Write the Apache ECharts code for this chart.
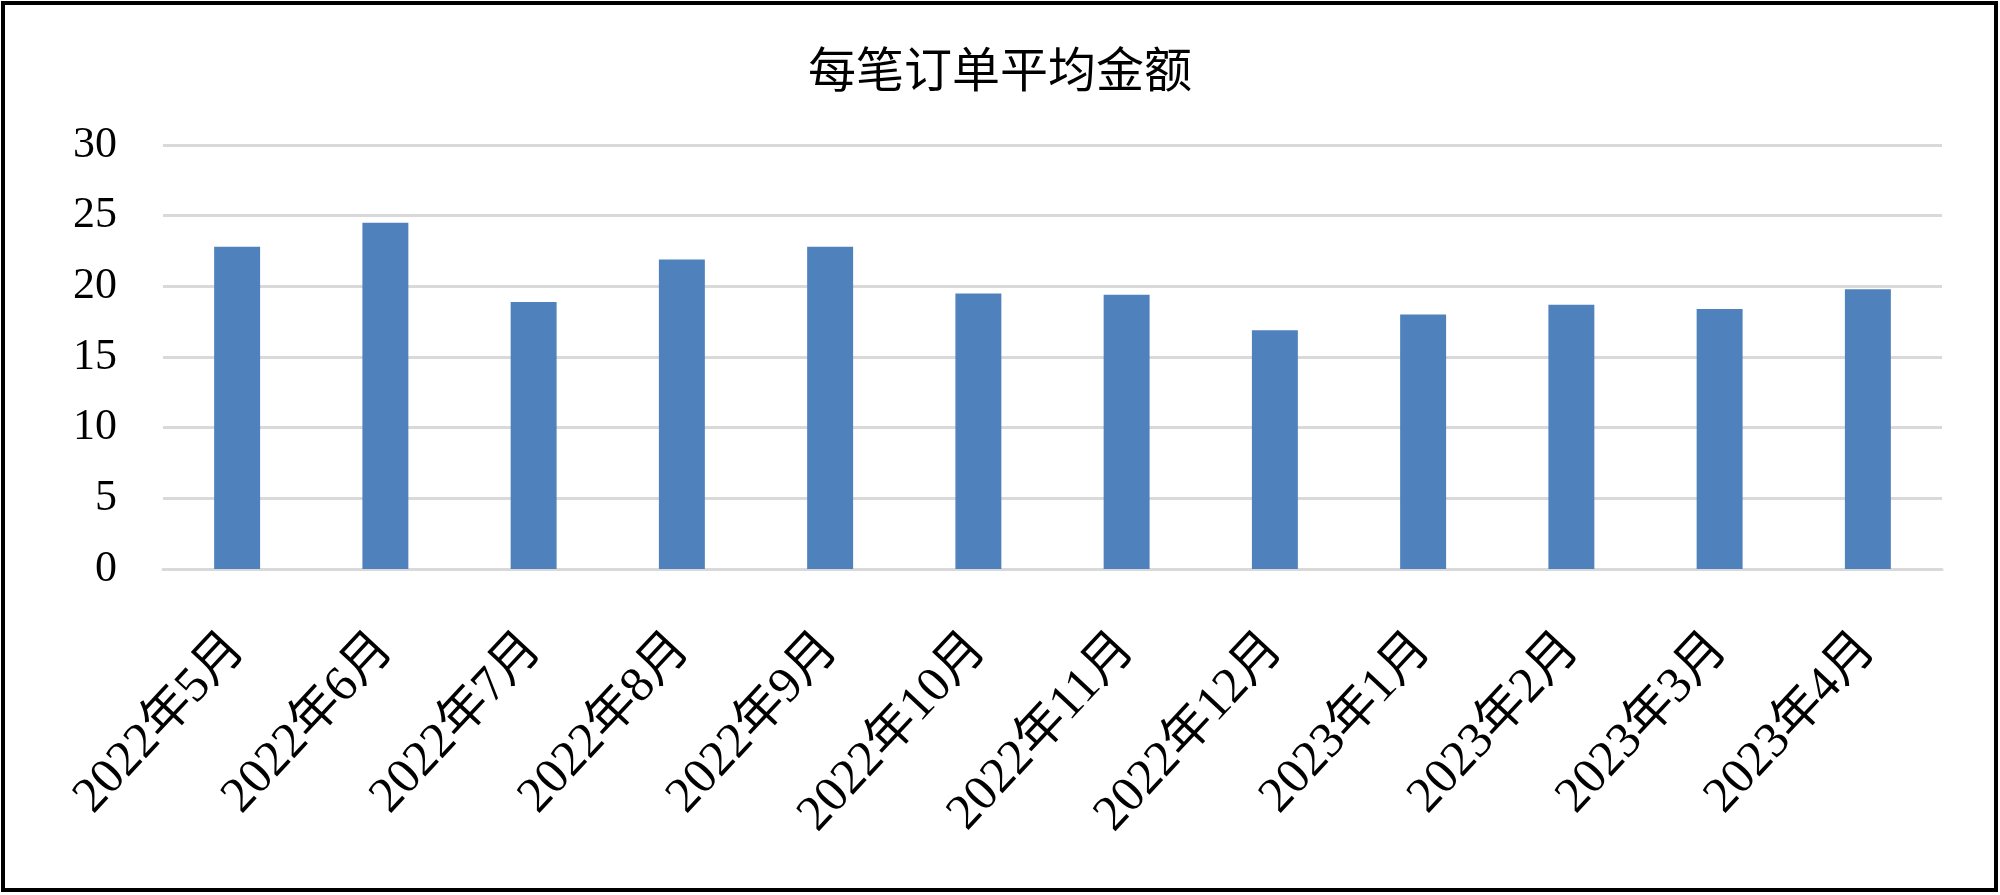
<!DOCTYPE html>
<html>
<head>
<meta charset="utf-8">
<style>
  html, body { margin: 0; padding: 0; background: #fff; }
  #chart { width: 2000px; height: 895px; }
</style>
<script src="https://cdn.jsdelivr.net/npm/echarts@6/dist/echarts.min.js"></script>
</head>
<body>
<div id="chart"></div>
<script>
const titleText = '每笔订单平均金额'
const months = [
  '2022年5月', '2022年6月', '2022年7月', '2022年8月', '2022年9月', '2022年10月',
  '2022年11月', '2022年12月', '2023年1月', '2023年2月', '2023年3月', '2023年4月'
]
const avgAmount = [22.8, 24.5, 18.9, 21.9, 22.8, 19.5, 19.4, 16.9, 18.0, 18.7, 18.4, 19.8]

const serif = '"Liberation Serif", "Noto Sans CJK SC", serif'

let myChart = echarts.init(document.getElementById('chart'))
const options = {
  animation: false,
  backgroundColor: '#fff',
  title: {
    text: titleText,
    left: 'center',
    top: 45,
    textStyle: {
      fontFamily: serif,
      fontSize: 48,
      fontWeight: 'normal',
      color: '#000'
    }
  },
  graphic: [
    {
      type: 'rect',
      shape: { x: 3, y: 3, width: 1993, height: 887 },
      style: { fill: 'none', stroke: '#000', lineWidth: 4 },
      silent: true
    }
  ],
  grid: {
    left: 163,
    right: 58,
    top: 145,
    bottom: 326
  },
  xAxis: {
    type: 'category',
    data: months,
    axisLine: { lineStyle: { color: '#d9d9d9', width: 3 } },
    axisTick: { show: false },
    axisLabel: {
      rotate: 47,
      margin: 72,
      interval: 0,
      color: '#000',
      fontFamily: serif,
      fontSize: 50
    }
  },
  yAxis: {
    type: 'value',
    min: 0,
    max: 30,
    interval: 5,
    axisLine: { show: false },
    axisTick: { show: false },
    splitLine: { lineStyle: { color: '#d9d9d9', width: 3 } },
    axisLabel: {
      margin: 46,
      color: '#000',
      fontFamily: serif,
      fontSize: 44
    }
  },
  series: [
    {
      name: titleText,
      type: 'bar',
      data: avgAmount,
      barWidth: '31%',
      itemStyle: { color: '#4f81bd' }
    }
  ]
}
myChart.setOption(options)
</script>
</body>
</html>
